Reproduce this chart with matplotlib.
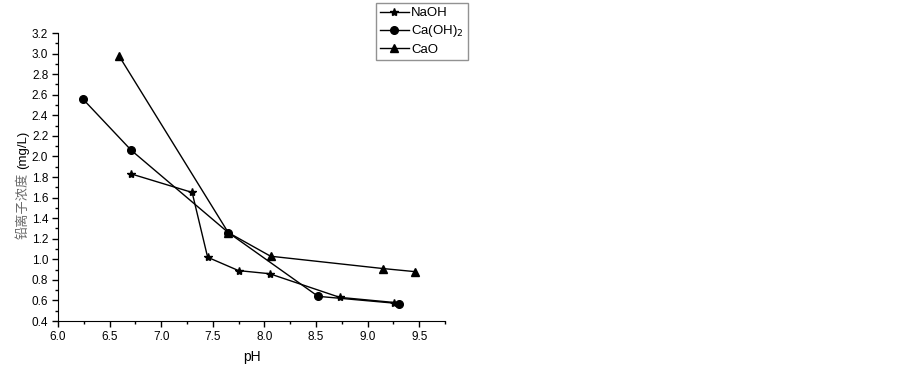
import matplotlib
matplotlib.use("Agg")
from matplotlib import pyplot as plt
from matplotlib.ticker import MultipleLocator

plt.rcParams['font.family'] = ['Liberation Sans', 'Noto Sans CJK SC', 'DejaVu Sans']

naoh_ph = [6.71, 7.30, 7.45, 7.75, 8.05, 8.73, 9.26]
naoh_pb = [1.83, 1.65, 1.02, 0.89, 0.86, 0.63, 0.58]

caoh2_ph = [6.24, 6.71, 7.65, 8.52, 9.30]
caoh2_pb = [2.56, 2.06, 1.26, 0.64, 0.57]

cao_ph = [6.59, 7.65, 8.06, 9.15, 9.46]
cao_pb = [2.98, 1.26, 1.03, 0.91, 0.88]

fig = plt.figure(figsize=(9.03, 3.67), dpi=100)
ax = fig.add_axes([0.0642, 0.1253, 0.4286, 0.7847])

ax.plot(naoh_ph, naoh_pb, color="black", linewidth=1, marker="*", markersize=6, label="NaOH")
ax.plot(caoh2_ph, caoh2_pb, color="black", linewidth=1, marker="o", markersize=5.5, label="Ca(OH)$_2$")
ax.plot(cao_ph, cao_pb, color="black", linewidth=1, marker="^", markersize=6, label="CaO")

ax.set_xlim(6.0, 9.75)
ax.set_ylim(0.4, 3.2)
ax.xaxis.set_major_locator(MultipleLocator(0.5))
ax.xaxis.set_minor_locator(MultipleLocator(0.25))
ax.yaxis.set_major_locator(MultipleLocator(0.2))
ax.yaxis.set_minor_locator(MultipleLocator(0.1))
ax.xaxis.set_major_formatter(plt.FormatStrFormatter("%.1f"))
ax.yaxis.set_major_formatter(plt.FormatStrFormatter("%.1f"))
ax.tick_params(which="major", direction="out", length=4, width=1, labelsize=8.5, pad=3)
ax.tick_params(which="minor", direction="out", length=2, width=1)
ax.spines["top"].set_visible(False)
ax.spines["right"].set_visible(False)

ax.set_xlabel("pH", fontsize=10, labelpad=5)
fig.text(0.026, 0.44, "铅离子浓度", rotation=90, ha="center", va="center",
         fontsize=9.5, color="#6a6a6a", family=['Noto Sans CJK SC', 'DejaVu Sans'])
fig.text(0.026, 0.592, "(mg/L)", rotation=90, ha="center", va="center", fontsize=9.5)

leg = fig.legend(loc="upper left", bbox_to_anchor=(0.416, 0.992), fontsize=9.5,
                 frameon=True, fancybox=False, handlelength=2.2, handletextpad=0.2,
                 borderpad=0.3, labelspacing=0.32, borderaxespad=0)
leg.get_frame().set_edgecolor("#777777")
leg.get_frame().set_linewidth(1)

fig.savefig("out.png", dpi=100)
